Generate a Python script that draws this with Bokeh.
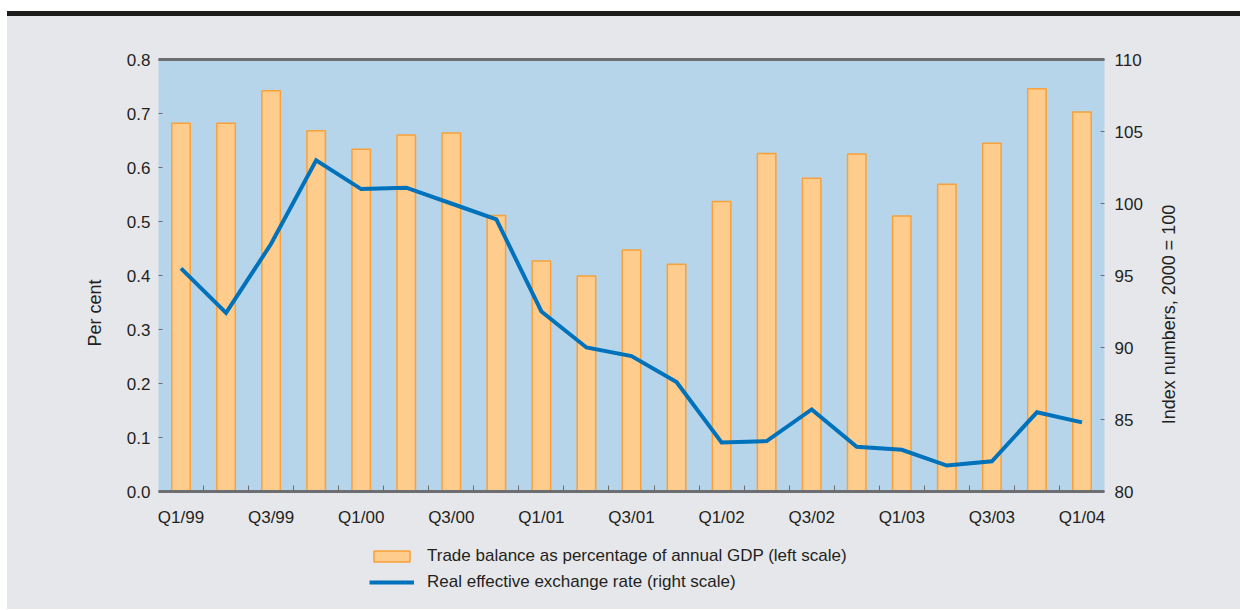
import math
from bokeh.plotting import figure
from bokeh.models import (Range1d, LinearAxis, FixedTicker, Legend, LegendItem,
                          Div, ColumnDataSource, Label)
from bokeh.layouts import column, row
from bokeh.embed import file_html
from bokeh.resources import INLINE

quarters = ["Q1/99", "Q2/99", "Q3/99", "Q4/99", "Q1/00", "Q2/00", "Q3/00", "Q4/00",
            "Q1/01", "Q2/01", "Q3/01", "Q4/01", "Q1/02", "Q2/02", "Q3/02", "Q4/02",
            "Q1/03", "Q2/03", "Q3/03", "Q4/03", "Q1/04"]
trade_balance = [0.682, 0.682, 0.742, 0.668, 0.634, 0.660, 0.664, 0.511, 0.427, 0.399,
                 0.447, 0.421, 0.537, 0.626, 0.580, 0.625, 0.510, 0.569, 0.645, 0.746, 0.703]
reer_index = [95.5, 92.4, 97.2, 103.0, 101.0, 101.1, 100.0, 98.9, 92.5, 90.0,
              89.4, 87.6, 83.4, 83.5, 85.7, 83.1, 82.9, 81.8, 82.1, 85.5, 84.8]
left_ticks = [0.0, 0.1, 0.2, 0.3, 0.4, 0.5, 0.6, 0.7, 0.8]
right_ticks = [80, 85, 90, 95, 100, 105, 110]
legend_labels = ["Trade balance as percentage of annual GDP (left scale)",
                 "Real effective exchange rate (right scale)"]
left_label = "Per cent"
right_label = "Index numbers, 2000 = 100"

FONT = "Liberation Sans"
TXT = "#231f20"
GRAY = "#6d6e72"
BG = "#e6e7eb"
BAR_FILL = "#fecd8e"
BAR_LINE = "#f8a13a"
LINE_COL = "#0072bb"
NBSP = "\u00a0"

pos = list(range(len(quarters)))
src = ColumnDataSource(dict(x=pos, trade=trade_balance, reer=reer_index))

W = 1233
MAIN_W = 1143
p = figure(width=MAIN_W, height=524, output_backend="svg", toolbar_location=None,
           x_range=Range1d(-0.5, len(quarters) - 0.5), y_range=Range1d(0, 0.8),
           min_border_left=151, min_border_right=46, min_border_top=43,
           min_border_bottom=49)
p.extra_y_ranges = {"idx": Range1d(80, 110)}
p.background_fill_color = "#b7d5ea"
p.border_fill_color = BG
p.outline_line_color = None
p.xgrid.visible = False
p.ygrid.visible = False

bar_style = dict(fill_color=BAR_FILL, line_color=BAR_LINE, line_width=1.5)
line_style = dict(line_color=LINE_COL, line_width=4, line_join="miter")
p.vbar(x="x", top="trade", width=0.41, source=src, **bar_style)
p.line(x="x", y="reer", source=src, y_range_name="idx", **line_style)

# x axis
xa = p.xaxis[0]
xa.ticker = FixedTicker(ticks=pos[::2], minor_ticks=[i + 0.5 for i in pos[:-1]])
xa.major_label_overrides = {i: quarters[i] for i in pos[::2]}
xa.axis_line_color = GRAY
xa.axis_line_width = 3
xa.major_tick_line_color = None
xa.minor_tick_line_color = GRAY
xa.minor_tick_in = 6
xa.minor_tick_out = 0
xa.major_label_standoff = 10
xa.major_label_text_font = FONT
xa.major_label_text_font_size = "17px"
xa.major_label_text_color = TXT

# left axis
ya = p.yaxis[0]
ya.ticker = FixedTicker(ticks=left_ticks)
ya.major_label_overrides = {t: f"{t:.1f}" for t in left_ticks}
ya.axis_line_color = None
ya.major_tick_line_color = GRAY
ya.major_tick_in = 4
ya.major_tick_out = 0
ya.minor_tick_line_color = None
ya.major_label_standoff = 8
ya.major_label_text_font = FONT
ya.major_label_text_font_size = "17px"
ya.major_label_text_color = TXT
ya.axis_label = left_label + NBSP * 15
ya.axis_label_standoff = 19
ya.axis_label_text_font = FONT
ya.axis_label_text_font_size = "18px"
ya.axis_label_text_font_style = "normal"
ya.axis_label_text_color = TXT

# right axis
ra = LinearAxis(y_range_name="idx", ticker=FixedTicker(ticks=right_ticks))
ra.axis_line_color = None
ra.major_tick_line_color = GRAY
ra.major_tick_in = 4
ra.major_tick_out = 0
ra.minor_tick_line_color = None
ra.major_label_standoff = 10
ra.major_label_text_font = FONT
ra.major_label_text_font_size = "17px"
ra.major_label_text_color = TXT
p.add_layout(ra, "right")

# top border line
ta = LinearAxis(ticker=FixedTicker(ticks=[]))
ta.axis_line_color = GRAY
ta.axis_line_width = 3
ta.major_tick_line_color = None
ta.minor_tick_line_color = None
ta.major_label_text_font_size = "0px"
p.add_layout(ta, "above")

# strip on the right holding the right-scale title
rf = figure(width=W - MAIN_W, height=524, output_backend="svg", toolbar_location=None,
            x_range=Range1d(0, 1), y_range=Range1d(0, 1),
            x_axis_location=None, y_axis_location=None, min_border=0,
            min_border_top=43, min_border_bottom=49)
rf.background_fill_color = BG
rf.border_fill_color = BG
rf.outline_line_color = None
rf.grid.visible = False
rf.add_layout(Label(x=18, y=177, x_units="screen", y_units="screen", text=right_label,
                    angle=math.pi / 2, text_align="center", text_baseline="middle",
                    text_font=FONT, text_font_size="18px", text_color=TXT))

# legend strip below the chart (series hidden here, only their legend swatches show)
lf = figure(width=W, height=69, output_backend="svg", toolbar_location=None,
            x_range=Range1d(1000, 1001), y_range=Range1d(1000, 1001),
            x_axis_location=None, y_axis_location=None, min_border=0,
            min_border_left=151)
lf.background_fill_color = BG
lf.border_fill_color = BG
lf.outline_line_color = None
lf.grid.visible = False
rb = lf.vbar(x="x", top="trade", width=0.41, source=src, visible=False, **bar_style)
rl = lf.line(x="x", y="reer", source=src, visible=False, **line_style)
legend = Legend(items=[LegendItem(label=legend_labels[0], renderers=[rb]),
                       LegendItem(label=legend_labels[1], renderers=[rl])],
                location=(211, 17), orientation="vertical",
                glyph_width=45, glyph_height=14, label_standoff=13,
                label_height=20, spacing=6, padding=0, margin=0,
                background_fill_alpha=0, border_line_alpha=0,
                inactive_fill_alpha=0,
                label_text_font=FONT, label_text_font_size="17px",
                label_text_color=TXT)
lf.add_layout(legend, "center")

bar = Div(text="", width=W, height=5, margin=(0, 0, 0, 0),
          styles={"background-color": "#1d1d1b"})
chart_row = row(p, rf, spacing=0, styles={"background-color": BG})
layout = column(bar, chart_row, lf, spacing=0, margin=(11, 0, 0, 7),
                styles={"background-color": BG})

open("out.html", "w").write(file_html(layout, INLINE))
